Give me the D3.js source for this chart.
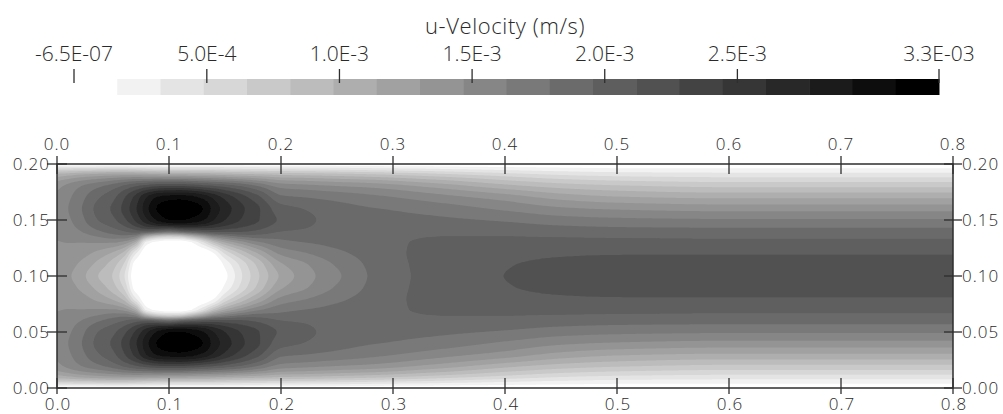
<!DOCTYPE html>
<html>
<head>
<meta charset="utf-8">
<script src="https://cdn.jsdelivr.net/npm/d3@7"></script>
<style>
  html, body { margin: 0; padding: 0; background: #fff; }
  svg { display: block; }
  text { font-family: "Open Sans", sans-serif; font-weight: 300; fill: #2a2a2a; }
</style>
</head>
<body>
<svg id="chart" width="1003" height="414"></svg>
<script>
// ---- u-velocity field, in 1e-3 m/s, on the lower half of the channel ----
// The flow is symmetric about the centreline y = 0.1 m, so the upper half mirrors these rows.
const xStations = [0, 0.01, 0.02, 0.035, 0.05, 0.06, 0.07, 0.08, 0.09, 0.1, 0.11, 0.12, 0.13,
                   0.14, 0.15, 0.165, 0.18, 0.2, 0.225, 0.25, 0.275, 0.3, 0.325, 0.35, 0.4,
                   0.45, 0.5, 0.6, 0.7, 0.8];
const yStations = [0, 0.005, 0.01, 0.02, 0.03, 0.04, 0.05, 0.06, 0.065, 0.07, 0.08, 0.09, 0.1];
// one profile per x station, values listed bottom wall -> centreline
const uProfiles = [
  [0, 0.62, 1.06, 1.42, 1.50, 1.52, 1.52, 1.50, 1.48, 1.46, 1.43, 1.41, 1.40],
  [0, 0.64, 1.12, 1.52, 1.60, 1.63, 1.60, 1.55, 1.50, 1.47, 1.42, 1.37, 1.33],
  [0, 0.66, 1.18, 1.62, 1.72, 1.76, 1.72, 1.62, 1.54, 1.47, 1.38, 1.28, 1.22],
  [0, 0.68, 1.24, 1.75, 1.92, 1.99, 1.94, 1.76, 1.62, 1.48, 1.26, 1.10, 1.00],
  [0, 0.70, 1.28, 1.88, 2.08, 2.15, 2.08, 1.88, 1.70, 1.48, 1.10, 0.88, 0.80],
  [0, 0.70, 1.30, 2.00, 2.27, 2.34, 2.24, 1.96, 1.72, 1.40, 0.90, 0.62, 0.50],
  [0, 0.68, 1.30, 2.12, 2.50, 2.58, 2.47, 2.05, 1.60, 1.10, 0.35, 0.08, 0.03],
  [0, 0.66, 1.28, 2.22, 2.78, 2.88, 2.74, 2.08, 1.00, 0.25, 0.02, 0.00, 0.00],
  [0, 0.64, 1.26, 2.30, 2.96, 3.12, 2.96, 2.00, 0.70, 0.10, 0.00, 0.00, 0.00],
  [0, 0.62, 1.24, 2.32, 3.02, 3.23, 3.09, 1.90, 0.60, 0.05, 0.00, 0.00, 0.00],
  [0, 0.62, 1.24, 2.32, 3.04, 3.26, 3.11, 2.00, 0.65, 0.05, 0.00, 0.00, 0.00],
  [0, 0.62, 1.22, 2.28, 3.00, 3.20, 3.05, 2.10, 0.90, 0.15, 0.00, 0.00, 0.00],
  [0, 0.61, 1.20, 2.22, 2.90, 3.10, 2.95, 2.15, 1.20, 0.45, 0.02, 0.00, 0.00],
  [0, 0.60, 1.18, 2.15, 2.74, 2.87, 2.77, 2.20, 1.50, 0.85, 0.15, 0.00, 0.00],
  [0, 0.58, 1.15, 2.08, 2.57, 2.70, 2.61, 2.18, 1.65, 1.15, 0.50, 0.20, 0.12],
  [0, 0.56, 1.10, 1.96, 2.36, 2.48, 2.43, 2.15, 1.80, 1.40, 0.85, 0.55, 0.48],
  [0, 0.54, 1.06, 1.80, 2.16, 2.30, 2.29, 2.08, 1.86, 1.60, 1.15, 0.87, 0.80],
  [0, 0.52, 1.00, 1.58, 1.84, 2.02, 2.09, 1.96, 1.84, 1.74, 1.50, 1.27, 1.17],
  [0, 0.50, 0.97, 1.53, 1.79, 1.94, 1.98, 1.93, 1.86, 1.80, 1.63, 1.47, 1.42],
  [0, 0.48, 0.93, 1.48, 1.74, 1.86, 1.90, 1.88, 1.86, 1.84, 1.75, 1.65, 1.60],
  [0, 0.45, 0.89, 1.44, 1.69, 1.81, 1.86, 1.88, 1.88, 1.87, 1.84, 1.80, 1.78],
  [0, 0.42, 0.84, 1.38, 1.64, 1.78, 1.85, 1.90, 1.92, 1.93, 1.93, 1.92, 1.91],
  [0, 0.40, 0.78, 1.30, 1.58, 1.74, 1.84, 1.92, 1.95, 1.97, 1.98, 1.98, 1.98],
  [0, 0.36, 0.72, 1.22, 1.52, 1.70, 1.82, 1.92, 1.96, 1.99, 2.03, 2.05, 2.06],
  [0, 0.30, 0.60, 1.05, 1.40, 1.60, 1.77, 1.91, 1.96, 2.00, 2.07, 2.11, 2.12],
  [0, 0.25, 0.50, 0.92, 1.25, 1.50, 1.70, 1.88, 1.95, 2.01, 2.10, 2.15, 2.16],
  [0, 0.22, 0.45, 0.85, 1.17, 1.45, 1.67, 1.86, 1.94, 2.01, 2.11, 2.17, 2.18],
  [0, 0.21, 0.42, 0.79, 1.12, 1.41, 1.65, 1.85, 1.93, 2.00, 2.11, 2.18, 2.20],
  [0, 0.21, 0.42, 0.79, 1.12, 1.41, 1.65, 1.85, 1.93, 2.00, 2.11, 2.18, 2.20],
  [0, 0.21, 0.42, 0.79, 1.12, 1.41, 1.65, 1.85, 1.93, 2.00, 2.11, 2.18, 2.20]
];

// ---- colour legend ----
const legendTitle = "u-Velocity (m/s)";
const legendMin = -6.5e-7;
const legendMax = 3.26e-3;
const legendBins = 20;
const legendTicks = [-6.5e-7, 5e-4, 1e-3, 1.5e-3, 2e-3, 2.5e-3, 3.26e-3];
const legendTickLabels = ["-6.5E-07", "5.0E-4", "1.0E-3", "1.5E-3", "2.0E-3", "2.5E-3", "3.3E-03"];

// ---- axes ----
const xDomain = [0, 0.8];
const yDomain = [0, 0.2];
const xTicks = [0, 0.1, 0.2, 0.3, 0.4, 0.5, 0.6, 0.7, 0.8];
const yTicks = [0, 0.05, 0.1, 0.15, 0.2];

// ------------------------------------------------------------------
const svg = d3.select("#chart");
const plot = { left: 57, right: 953, top: 164, bottom: 388 };
const x = d3.scaleLinear().domain(xDomain).range([plot.left, plot.right]);
const y = d3.scaleLinear().domain(yDomain).range([plot.bottom, plot.top]);

// discrete grey ramp: lowest bin white, highest bin black
const binWidth = (legendMax - legendMin) / legendBins;
const binEdges = d3.range(legendBins + 1).map(k => legendMin + k * binWidth);
const grey = d3.scaleLinear().domain([0, legendBins - 1]).range(["#ffffff", "#000000"]);

// monotone cubic (Fritsch–Carlson) through a profile, used to lay the
// sampled profiles onto a fine raster for contouring
function monotone(xs, ys) {
  const n = xs.length, h = [], d = [], m = new Array(n);
  for (let i = 0; i < n - 1; i++) { h[i] = xs[i + 1] - xs[i]; d[i] = (ys[i + 1] - ys[i]) / h[i]; }
  m[0] = d[0]; m[n - 1] = d[n - 2];
  for (let i = 1; i < n - 1; i++) {
    if (d[i - 1] * d[i] <= 0) m[i] = 0;
    else {
      const w1 = 2 * h[i] + h[i - 1], w2 = h[i] + 2 * h[i - 1];
      m[i] = (w1 + w2) / (w1 / d[i - 1] + w2 / d[i]);
    }
  }
  return t0 => {
    let i = d3.bisectRight(xs, t0) - 1;
    i = Math.max(0, Math.min(n - 2, i));
    const t = (t0 - xs[i]) / h[i], t2 = t * t, t3 = t2 * t;
    return (2 * t3 - 3 * t2 + 1) * ys[i] + (t3 - 2 * t2 + t) * h[i] * m[i]
         + (-2 * t3 + 3 * t2) * ys[i + 1] + (t3 - t2) * h[i] * m[i + 1];
  };
}

// full-height profiles: lower half plus its mirror image
const yFull = yStations.concat(yStations.slice(0, -1).reverse().map(v => 0.2 - v));
const uFull = uProfiles.map(p => p.concat(p.slice(0, -1).reverse()));

const nx = 449, ny = 113;
const rasterX = d3.range(nx).map(i => xDomain[0] + i * (xDomain[1] - xDomain[0]) / (nx - 1));
const rasterY = d3.range(ny).map(j => yDomain[1] - j * (yDomain[1] - yDomain[0]) / (ny - 1));
const columnSamples = uFull.map(p => { const f = monotone(yFull, p); return rasterY.map(f); });
const field = new Float64Array(nx * ny);
for (let j = 0; j < ny; j++) {
  const f = monotone(xStations, columnSamples.map(c => c[j]));
  for (let i = 0; i < nx; i++) field[i + j * nx] = Math.max(0, f(rasterX[i])) * 1e-3;
}

const contours = d3.contours().size([nx, ny]).thresholds(binEdges.slice(1, legendBins))(field);
const gx = d3.scaleLinear().domain([0.5, nx - 0.5]).range([x(xDomain[0]), x(xDomain[1])]);
const gy = d3.scaleLinear().domain([0.5, ny - 0.5]).range([y(yDomain[1]), y(yDomain[0])]);
const path = d3.geoPath(d3.geoTransform({
  point(px, py) { this.stream.point(gx(px), gy(py)); }
}));

const defs = svg.append("defs");
defs.append("clipPath").attr("id", "plot-clip")
  .append("rect")
  .attr("x", plot.left).attr("y", plot.top)
  .attr("width", plot.right - plot.left).attr("height", plot.bottom - plot.top);
defs.append("filter").attr("id", "soft")
  .append("feGaussianBlur").attr("stdDeviation", 0.6);

const fieldG = svg.append("g").attr("clip-path", "url(#plot-clip)")
  .append("g").attr("filter", "url(#soft)");
fieldG.append("rect")
  .attr("x", plot.left - 2).attr("y", plot.top - 2)
  .attr("width", plot.right - plot.left + 4).attr("height", plot.bottom - plot.top + 4)
  .attr("fill", grey(0));
fieldG.selectAll("path.band").data(contours).join("path")
  .attr("class", "band")
  .attr("d", path)
  .attr("fill", (d, i) => grey(i + 1));

// frame and cross ticks
const axisColor = "#2e2e2e";
svg.append("rect")
  .attr("x", plot.left).attr("y", plot.top)
  .attr("width", plot.right - plot.left).attr("height", plot.bottom - plot.top)
  .attr("fill", "none").attr("stroke", axisColor).attr("stroke-width", 1.5);

const ticksG = svg.append("g").attr("stroke", axisColor).attr("stroke-width", 1.3);
xTicks.forEach(v => {
  ticksG.append("line").attr("x1", x(v)).attr("x2", x(v)).attr("y1", plot.top - 8).attr("y2", plot.top + 10);
  ticksG.append("line").attr("x1", x(v)).attr("x2", x(v)).attr("y1", plot.bottom - 10).attr("y2", plot.bottom + 6);
});
yTicks.forEach(v => {
  ticksG.append("line").attr("y1", y(v)).attr("y2", y(v)).attr("x1", plot.left - 10).attr("x2", plot.left + 10);
  ticksG.append("line").attr("y1", y(v)).attr("y2", y(v)).attr("x1", plot.right - 9).attr("x2", plot.right + 9);
});

const fx = d3.format(".1f"), fy = d3.format(".2f");
const labelG = svg.append("g").style("font-size", "17px").style("letter-spacing", "1px");
labelG.selectAll("text.xt").data(xTicks).join("text").attr("class", "xt")
  .attr("x", d => x(d)).attr("y", 150).attr("text-anchor", "middle").text(fx);
labelG.selectAll("text.xb").data(xTicks).join("text").attr("class", "xb")
  .attr("x", d => x(d) + 1).attr("y", 410).attr("text-anchor", "middle").text(fx);
labelG.selectAll("text.yl").data(yTicks).join("text").attr("class", "yl")
  .attr("x", 50).attr("y", d => y(d)).attr("dy", "0.34em").attr("text-anchor", "end").text(fy);
labelG.selectAll("text.yr").data(yTicks).join("text").attr("class", "yr")
  .attr("x", 962).attr("y", d => y(d)).attr("dy", "0.34em").attr("text-anchor", "start").text(fy);

// colour legend
const lx = d3.scaleLinear().domain([legendMin, legendMax]).range([74, 939]);
const legend = svg.append("g");
legend.selectAll("rect").data(d3.range(legendBins)).join("rect")
  .attr("x", k => lx(binEdges[k]))
  .attr("width", k => lx(binEdges[k + 1]) - lx(binEdges[k]) + 0.5)
  .attr("y", 79).attr("height", 16)
  .attr("fill", k => grey(k));
legend.selectAll("line").data(legendTicks).join("line")
  .attr("x1", d => lx(d)).attr("x2", d => lx(d))
  .attr("y1", 69).attr("y2", 83)
  .attr("stroke", axisColor).attr("stroke-width", 1.3);
legend.selectAll("text.lt").data(legendTicks).join("text").attr("class", "lt")
  .attr("x", d => lx(d)).attr("y", 61).attr("text-anchor", "middle")
  .style("font-size", "21px")
  .text((d, i) => legendTickLabels[i]);
legend.append("text")
  .attr("x", 505).attr("y", 34).attr("text-anchor", "middle")
  .style("font-size", "22px").style("letter-spacing", "0.6px")
  .text(legendTitle);
</script>
</body>
</html>
